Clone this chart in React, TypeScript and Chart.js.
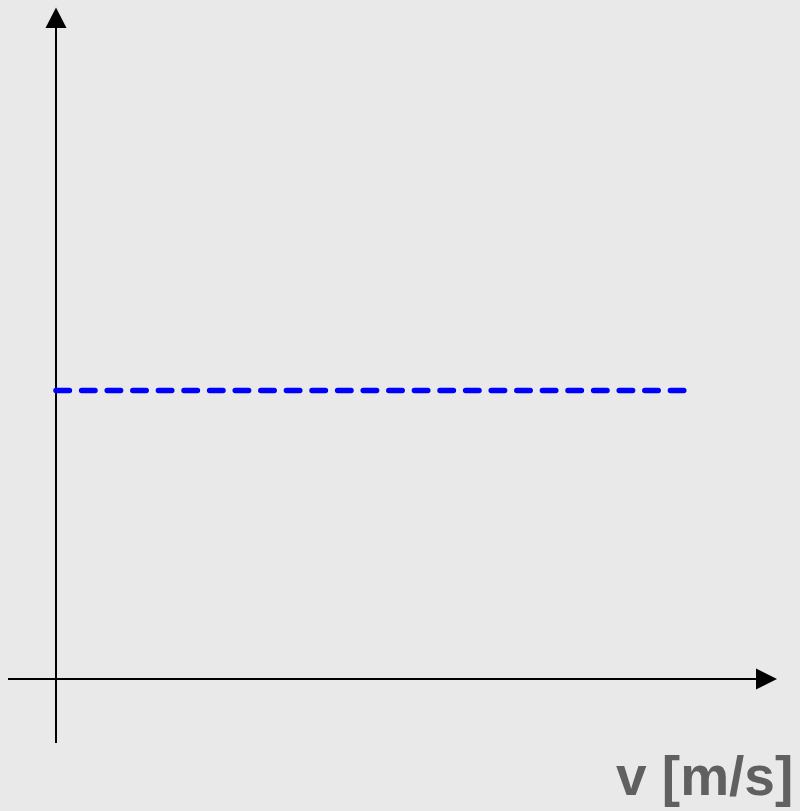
import React, { useEffect, useRef } from "react";
import { Chart, registerables } from "chart.js";

Chart.register(...registerables);

// Constant level drawn as a dashed line across the velocity axis
const lineX: number[] = [0, 9];
const lineY: number[] = [4, 4];

// Axis ranges
const xRange: [number, number] = [0, 10];
const yRange: [number, number] = [0, 9];

// Axis label
const xAxisLabel = "v [m/s]";

const BG = "#e9e9e9";

const axesPlugin = {
  id: "arrowAxes",
  beforeDraw(chart: any) {
    const { ctx, width, height } = chart;
    ctx.save();
    ctx.fillStyle = BG;
    ctx.fillRect(0, 0, width, height);
    ctx.restore();
  },
  beforeDatasetsDraw(chart: any) {
    const { ctx, scales } = chart;
    const xs = scales.x;
    const ys = scales.y;
    const ox = xs.getPixelForValue(0);
    const oy = ys.getPixelForValue(0);
    const xEnd = xs.getPixelForValue(xRange[1]);
    const yEnd = ys.getPixelForValue(yRange[1]);

    ctx.save();
    ctx.strokeStyle = "#000";
    ctx.fillStyle = "#000";
    ctx.lineWidth = 2;

    // horizontal axis
    ctx.beginPath();
    ctx.moveTo(ox - 48, oy);
    ctx.lineTo(xEnd, oy);
    ctx.stroke();
    ctx.beginPath();
    ctx.moveTo(xEnd, oy - 10.5);
    ctx.lineTo(xEnd + 21, oy);
    ctx.lineTo(xEnd, oy + 10.5);
    ctx.closePath();
    ctx.fill();

    // vertical axis
    ctx.beginPath();
    ctx.moveTo(ox, oy + 64);
    ctx.lineTo(ox, yEnd - 2);
    ctx.stroke();
    ctx.beginPath();
    ctx.moveTo(ox - 10.5, yEnd - 2);
    ctx.lineTo(ox, yEnd - 22.5);
    ctx.lineTo(ox + 10.5, yEnd - 2);
    ctx.closePath();
    ctx.fill();

    // axis label
    ctx.fillStyle = "#606060";
    ctx.font = "bold 55px 'Liberation Sans', Arial, sans-serif";
    ctx.textAlign = "left";
    ctx.textBaseline = "alphabetic";
    ctx.fillText(xAxisLabel, ox + 560, oy + 116);
    ctx.restore();
  },
};

export default function App() {
  const canvasRef = useRef<HTMLCanvasElement | null>(null);

  useEffect(() => {
    document.body.style.margin = "0";
    document.body.style.background = BG;
    const canvas = canvasRef.current;
    if (!canvas) return;
    const chart = new Chart(canvas, {
      type: "line",
      data: {
        datasets: [
          {
            data: lineX.map((x, i) => ({ x, y: lineY[i] })),
            borderColor: "#0000ff",
            borderWidth: 5.5,
            borderDash: [13.4, 12.2],
            borderCapStyle: "round",
            pointRadius: 0,
            fill: false,
            clip: false as any,
          },
        ],
      },
      options: {
        animation: false,
        responsive: false,
        maintainAspectRatio: false,
        layout: { padding: { left: 56, right: 44, top: 30, bottom: 132 } },
        plugins: { legend: { display: false }, tooltip: { enabled: false } },
        scales: {
          x: { type: "linear", min: xRange[0], max: xRange[1], display: false },
          y: { type: "linear", min: yRange[0], max: yRange[1], display: false },
        },
      },
      plugins: [axesPlugin],
    });
    return () => chart.destroy();
  }, []);

  return (
    <div style={{ width: 800, height: 811 }}>
      <canvas ref={canvasRef} width={800} height={811} style={{ display: "block" }} />
    </div>
  );
}
